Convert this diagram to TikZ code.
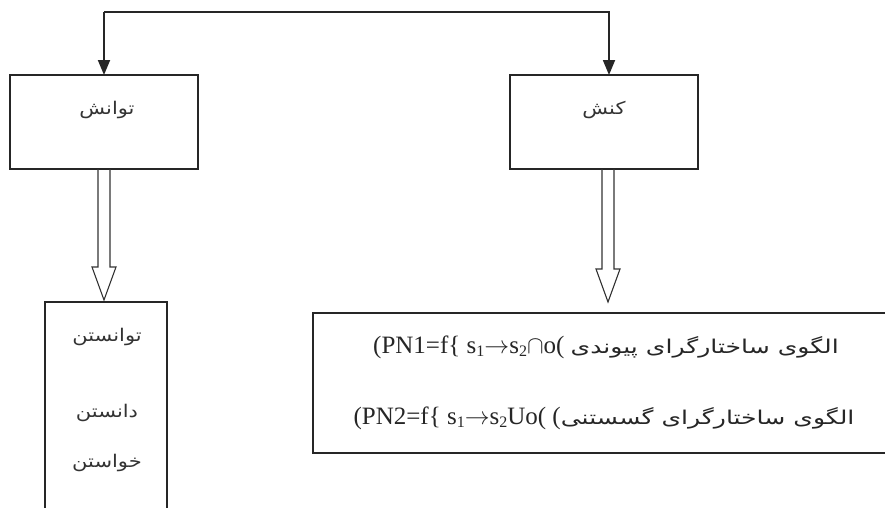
\documentclass[tikz,border=0pt]{standalone}
\usepackage{fontspec}
\usepackage{graphicx}
\setmainfont{Liberation Serif}
\newfontfamily\arabicfont[Script=Arabic]{DejaVu Sans}
\TeXXeTstate=1
\usetikzlibrary{arrows.meta}
\newcommand{\fatext}[1]{\scalebox{1.2}[1]{\arabicfont\fontsize{17.5}{19}\selectfont\beginR #1\endR}}
\newcommand{\fabig}[1]{\scalebox{1.32}[1]{\arabicfont\fontsize{19}{21}\selectfont\beginR #1\endR}}
\newcommand{\subn}[1]{\raisebox{-0.3ex}{\fontsize{16}{17}\selectfont #1}}
\tikzset{
  boxline/.style={draw=black!85, line width=1.4pt},
  topbox/.style={boxline, rectangle, minimum width=188pt, minimum height=94pt, inner sep=0pt},
  fa/.style={text=black!80, inner sep=0pt},
  latin/.style={text=black!85, inner sep=0pt, font=\fontsize{25}{27}\selectfont},
  link/.style={draw=black!85, line width=1.8pt, -{Triangle[length=15pt,width=12pt]}},
  hollow/.style={draw=black!80, line width=1.1pt, line join=miter},
}
\newcommand{\hollowarrow}[3]{% x, y top, y tip
  \draw[hollow] (#1-6,#2) -- (#1-6,#3-33) -- (#1-12,#3-33) -- (#1,#3) -- (#1+12,#3-33) -- (#1+6,#3-33) -- (#1+6,#2);
}
\begin{document}
\begin{tikzpicture}[x=1pt,y=-1pt]
\useasboundingbox (0,0) rectangle (885,507);
\fill[white] (0,0) rectangle (885,507);

% top boxes
\node[topbox] (tl) at (104,122) {};
\node[topbox] (tr) at (604,122) {};
\node[fa] (tlt) at (107,110) {\fatext{توانش}};
\node[fa] (trt) at (604,110) {\fatext{کنش}};

% top connector
\coordinate (cl) at (104,12);
\coordinate (cr) at (609,12);
\coordinate (tlin) at (104,75);
\coordinate (trin) at (609,75);
\draw[link] (cl) -- (cr) -- (trin);
\draw[link] (cl) -- (tlin);

% hollow arrows
\hollowarrow{104}{169}{300}
\hollowarrow{608}{169}{302}

% bottom left box (cut off at the bottom)
\coordinate (bl1) at (45,510);
\coordinate (bl2) at (45,302);
\coordinate (bl3) at (167,302);
\coordinate (bl4) at (167,510);
\draw[boxline] (bl1) -- (bl2) -- (bl3) -- (bl4);
\node[fa] (w1) at (107,337) {\fatext{توانستن}};
\node[fa] (w2) at (107,413) {\fatext{دانستن}};
\node[fa] (w3) at (107,463) {\fatext{خواستن}};

% big box (cut off at the right)
\coordinate (bb1) at (890,313);
\coordinate (bb2) at (313,313);
\coordinate (bb3) at (313,453);
\coordinate (bb4) at (890,453);
\draw[boxline] (bb1) -- (bb2) -- (bb3) -- (bb4);
\node[latin] (l1) at (606,347) {(PN1=f\{ s\subn{1}$\rightarrow$s\subn{2}$\cap$o( \fabig{الگوی ساختارگرای پیوندی}};
\node[latin] (l2) at (604,418) {(PN2=f\{ s\subn{1}$\rightarrow$s\subn{2}Uo( (\fabig{الگوی ساختارگرای گسستنی}};
\end{tikzpicture}
\end{document}
